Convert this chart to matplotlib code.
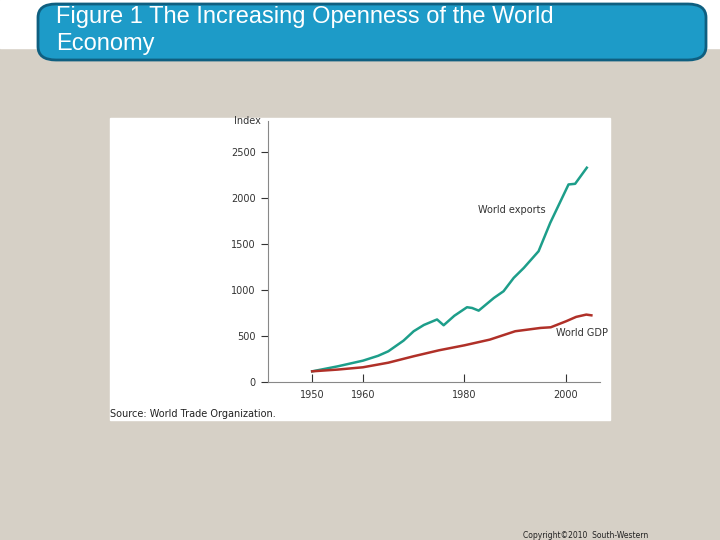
import matplotlib
matplotlib.use("Agg")
import matplotlib.pyplot as plt
from matplotlib.patches import FancyBboxPatch, Rectangle

exp_years = [1950, 1955, 1960, 1963, 1965, 1968, 1970, 1972, 1974.6, 1975.9, 1978, 1980.5, 1981.5, 1982.8, 1985.8, 1987.7, 1989.7, 1991.7, 1994.6, 1996.9, 2000.5, 2001.8, 2004.1]
exports = [116, 170, 232, 285, 334, 450, 552, 620, 680, 617, 720, 813, 805, 776, 914, 987, 1132, 1241, 1422, 1731, 2148, 2155, 2330]
gdp_years = [1950, 1955, 1960, 1965, 1970, 1975, 1980, 1985, 1990, 1995, 1997, 2000, 2002, 2004, 2005]
gdp = [116, 135, 160, 210, 280, 345, 399, 461, 552, 588, 595, 660, 708, 733, 725]
xticks = [1950, 1960, 1980, 2000]
yticks = [0, 500, 1000, 1500, 2000, 2500]

fig = plt.figure(figsize=(7.2, 5.4), dpi=100)
fig.patch.set_facecolor("#d6d0c6")
W, H = 720, 540
def fx(x): return x / W
def fy(y): return 1 - y / H
fig.add_artist(Rectangle((0, fy(48)), 1, 48 / H, transform=fig.transFigure, color="white", zorder=0))
fig.add_artist(FancyBboxPatch((fx(38), fy(60)), (706 - 38) / W, 56 / H, boxstyle="round,pad=0,rounding_size=0.025",
                              transform=fig.transFigure, facecolor="#1d9bc8", edgecolor="#0f5f80", lw=2, zorder=1))
fig.text(fx(56), fy(17), "Figure 1 The Increasing Openness of the World", color="white", fontsize=17, va="center", family="Liberation Sans")
fig.text(fx(56), fy(44), "Economy", color="white", fontsize=17, va="center", family="Liberation Sans")
fig.add_artist(Rectangle((fx(110), fy(420)), 500 / W, 302 / H, transform=fig.transFigure, color="white", zorder=0))
fig.text(fx(110), fy(414), "Source: World Trade Organization.", fontsize=7, va="center", color="#222")
fig.text(fx(523), fy(535), "Copyright©2010  South-Western", fontsize=5.5, va="center", color="#222")

ax = fig.add_axes([fx(268), fy(382), (600 - 268) / W, (382 - 121) / H])
ax.set_facecolor("white")
ax.plot(exp_years, exports, color="#1d9e8a", lw=1.8)
ax.plot(gdp_years, gdp, color="#b03028", lw=1.8)
ax.set_xlim(1941.3, 2006.7)
ax.set_ylim(0, 2838)
ax.set_xticks(xticks)
ax.set_yticks(yticks)
ax.tick_params(axis="both", labelsize=7, colors="#333")
ax.tick_params(axis="x", direction="in", length=6, pad=6)
ax.tick_params(axis="y", length=5, pad=4)
for s in ["top", "right"]:
    ax.spines[s].set_visible(False)
ax.spines["left"].set_color("#888")
ax.spines["bottom"].set_color("#888")
ax.text(-0.02, 1.0, "Index", transform=ax.transAxes, fontsize=7, ha="right", va="center", color="#333")
ax.text(1982.6, 1840, "World exports", fontsize=7, color="#333")
ax.text(1998, 500, "World GDP", fontsize=7, color="#333")
fig.savefig("out.png", dpi=100, facecolor=fig.get_facecolor())
